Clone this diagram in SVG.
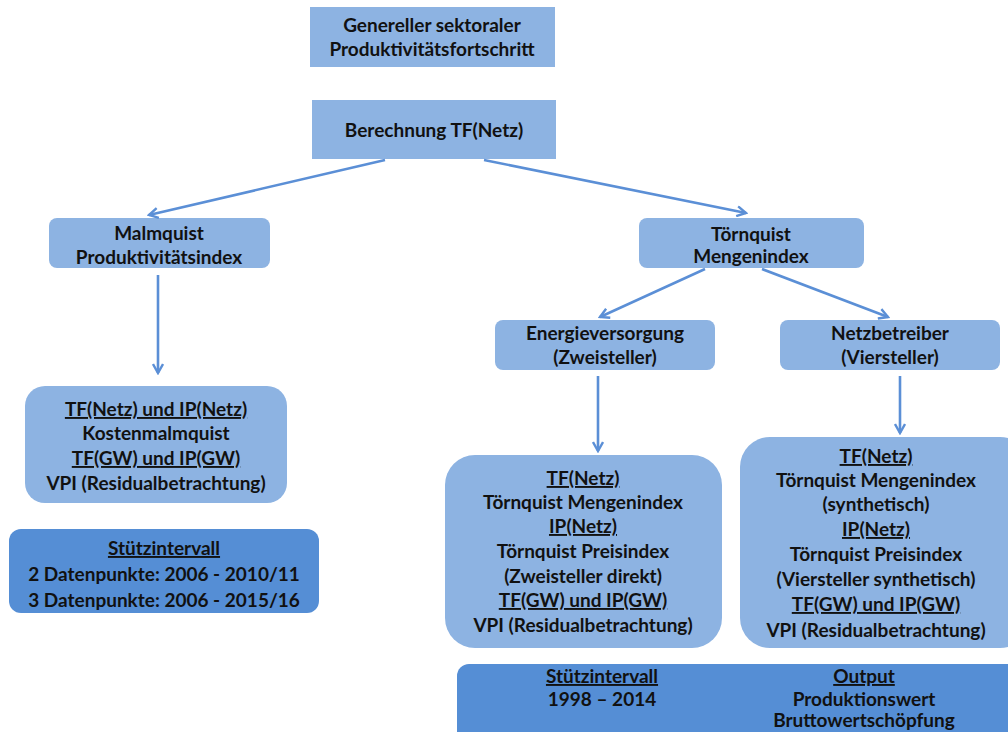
<svg xmlns="http://www.w3.org/2000/svg" width="1008" height="732" viewBox="0 0 1008 732">
<defs>
<marker id="ah" viewBox="0 0 12 12" refX="10" refY="6" markerWidth="12" markerHeight="12" markerUnits="userSpaceOnUse" orient="auto">
<path d="M1,1 L10,6 L1,11" fill="none" stroke="#5b8fd6" stroke-width="2.4"/>
</marker>
<style>
.l{fill:#8db3e2}
.d{fill:#558ed5}
text{font-family:Lato,"Liberation Sans",sans-serif;font-weight:bold;font-size:19px;fill:#111;text-anchor:middle}
.u{text-decoration:underline}
.c line{stroke:#5b8fd6;stroke-width:2.6;marker-end:url(#ah)}
</style>
</defs>
<rect width="1008" height="732" fill="#fff"/>
<g id="n1"><rect class="l" x="310" y="7" width="245" height="60"/>
<text x="432" y="32">Genereller sektoraler</text><text x="432" y="56">Produktivitätsfortschritt</text></g>
<g id="n2"><rect class="l" x="312" y="100" width="244" height="59"/>
<text x="434" y="137">Berechnung TF(Netz)</text></g>
<g id="n3"><rect class="l" x="49" y="218" width="221" height="50" rx="8"/>
<text x="159" y="240">Malmquist</text><text x="159" y="264">Produktivitätsindex</text></g>
<g id="n4"><rect class="l" x="25" y="386" width="262" height="117" rx="20"/>
<text class="u" x="156" y="416">TF(Netz) und IP(Netz)</text><text x="156" y="440">Kostenmalmquist</text>
<text class="u" x="156" y="465">TF(GW) und IP(GW)</text><text x="156" y="490">VPI (Residualbetrachtung)</text></g>
<g id="n5"><rect class="d" x="9" y="529" width="310" height="84" rx="12"/>
<text class="u" x="164" y="555">Stützintervall</text><text x="164" y="581">2 Datenpunkte: 2006 - 2010/11</text>
<text x="164" y="607">3 Datenpunkte: 2006 - 2015/16</text></g>
<g id="n6"><rect class="l" x="639" y="218" width="225" height="50" rx="8"/>
<text x="751" y="241">Törnquist</text><text x="751" y="263">Mengenindex</text></g>
<g id="n7"><rect class="l" x="495" y="320" width="220" height="50" rx="8"/>
<text x="605" y="340">Energieversorgung</text><text x="605" y="364">(Zweisteller)</text></g>
<g id="n8"><rect class="l" x="780" y="320" width="220" height="50" rx="8"/>
<text x="890" y="340">Netzbetreiber</text><text x="890" y="364">(Viersteller)</text></g>
<g id="n9"><rect class="l" x="445" y="455" width="277" height="193" rx="30"/>
<text class="u" x="583" y="485">TF(Netz)</text><text x="583" y="509">Törnquist Mengenindex</text>
<text class="u" x="583" y="533">IP(Netz)</text><text x="583" y="558">Törnquist Preisindex</text>
<text x="583" y="583">(Zweisteller direkt)</text><text class="u" x="583" y="607">TF(GW) und IP(GW)</text>
<text x="583" y="632">VPI (Residualbetrachtung)</text></g>
<g id="n10"><rect class="l" x="740" y="437" width="290" height="211" rx="30"/>
<text class="u" x="876" y="463">TF(Netz)</text><text x="876" y="487">Törnquist Mengenindex</text>
<text x="876" y="511">(synthetisch)</text><text class="u" x="876" y="536">IP(Netz)</text>
<text x="876" y="561">Törnquist Preisindex</text><text x="876" y="586">(Viersteller synthetisch)</text>
<text class="u" x="876" y="611">TF(GW) und IP(GW)</text><text x="876" y="637">VPI (Residualbetrachtung)</text></g>
<g id="n11"><rect class="d" x="457" y="664" width="570" height="90" rx="12"/>
<text class="u" x="602" y="683">Stützintervall</text><text x="602" y="706">1998 – 2014</text>
<text class="u" x="864" y="683">Output</text><text x="864" y="706">Produktionswert</text>
<text x="864" y="727">Bruttowertschöpfung</text></g>
<g id="connectors" class="c">
<line x1="385" y1="160" x2="149" y2="215"/>
<line x1="484" y1="160" x2="746" y2="213"/>
<line x1="158" y1="275" x2="158" y2="373"/>
<line x1="705" y1="269" x2="600" y2="317"/>
<line x1="762" y1="269" x2="888" y2="317"/>
<line x1="598" y1="376" x2="598" y2="451"/>
<line x1="900" y1="376" x2="900" y2="433"/>
</g>
</svg>
